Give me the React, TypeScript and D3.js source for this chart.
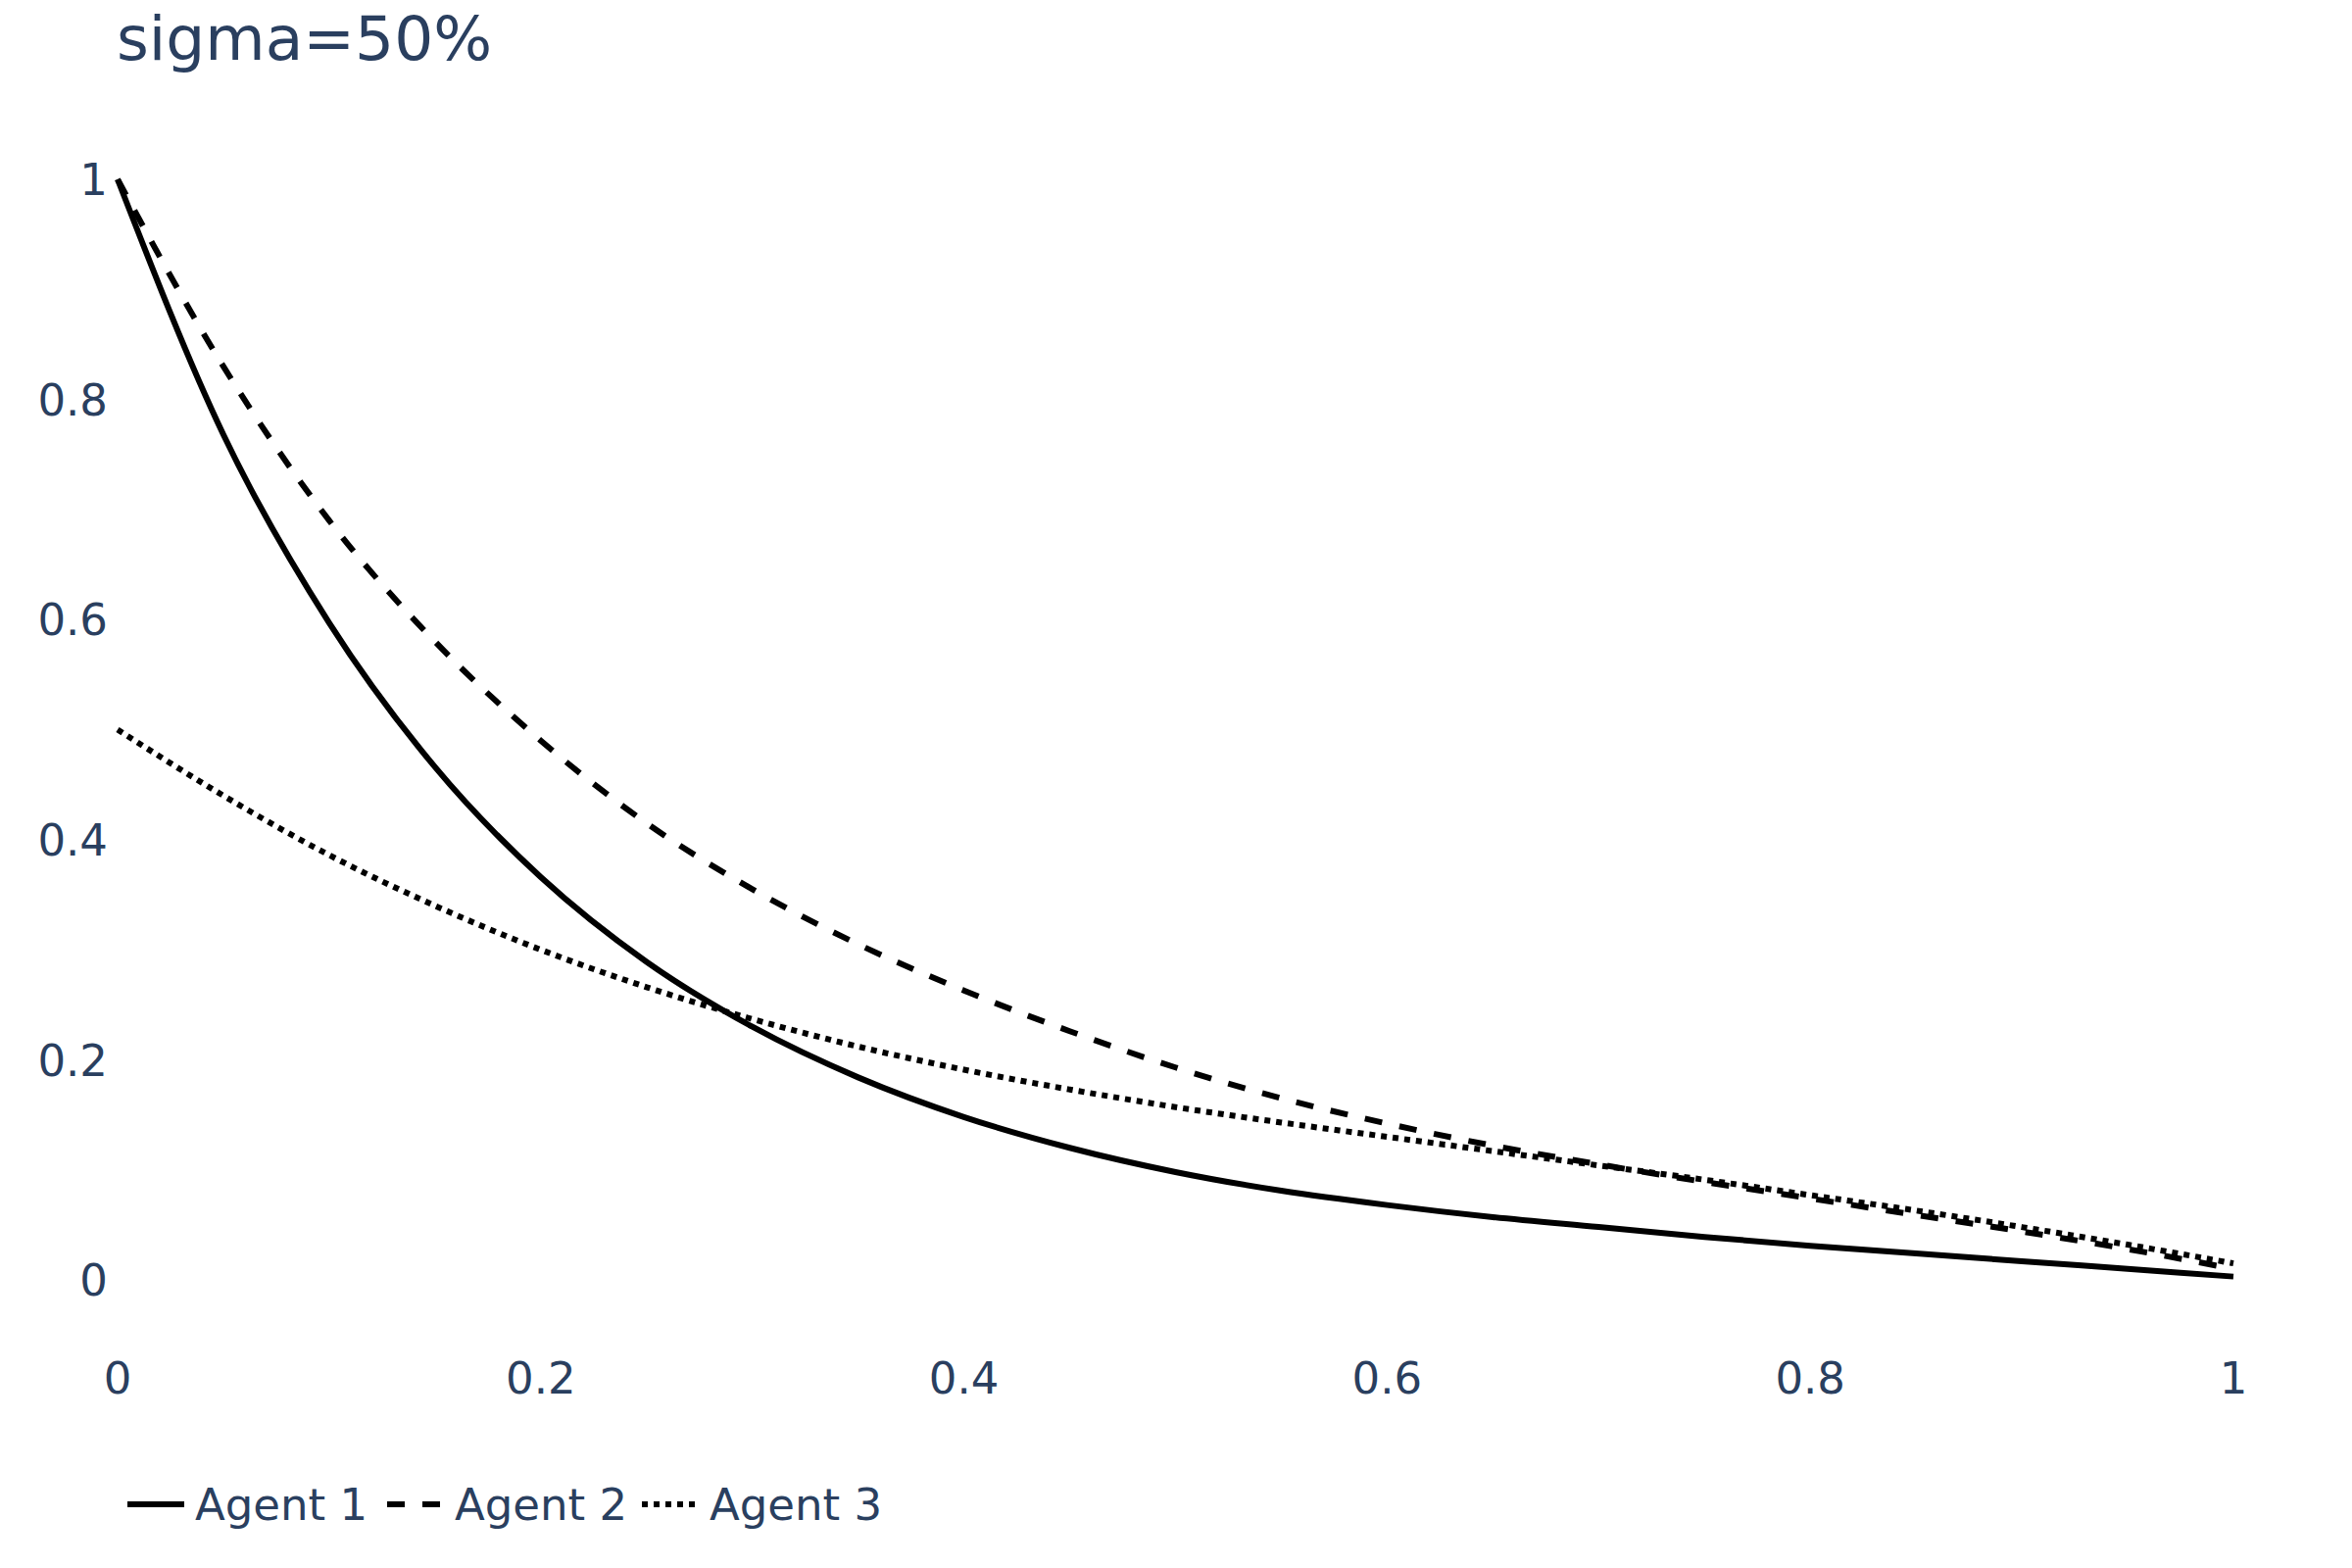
import React from "react";
import * as d3 from "d3";

const xValues = [0, 0.05, 0.1, 0.15, 0.2, 0.25, 0.3, 0.35, 0.4, 0.45, 0.5, 0.55, 0.6, 0.65, 0.7, 0.75, 0.8, 0.85, 0.9, 0.95, 1.0];
const agent1 = [1.0, 0.768, 0.597, 0.466, 0.366, 0.289, 0.23, 0.184, 0.148, 0.12, 0.098, 0.081, 0.068, 0.057, 0.048, 0.039, 0.031, 0.024, 0.017, 0.01, 0.003];
const agent2 = [1.0, 0.83, 0.69, 0.58, 0.49, 0.415, 0.355, 0.305, 0.263, 0.226, 0.193, 0.165, 0.142, 0.122, 0.105, 0.089, 0.074, 0.059, 0.044, 0.028, 0.01];
const agent3 = [0.5, 0.44, 0.386, 0.34, 0.3, 0.266, 0.237, 0.212, 0.191, 0.173, 0.157, 0.143, 0.13, 0.117, 0.104, 0.091, 0.077, 0.063, 0.048, 0.032, 0.015];
const seriesNames = ["Agent 1", "Agent 2", "Agent 3"];
const xTicks = [0, 0.2, 0.4, 0.6, 0.8, 1];
const yTicks = [0, 0.2, 0.4, 0.6, 0.8, 1];
const titleText = "sigma=50%";

const W = 2400;
const H = 1600;
const FONT = "'DejaVu Sans', Verdana, sans-serif";
const TEXT = "#2a3f5f";
const LW = 6;

export default function App() {
  const x = d3.scaleLinear().domain([0, 1]).range([120, 2279]);
  const y = d3.scaleLinear().domain([0, 1]).range([1306, 183]);
  const line = d3
    .line<[number, number]>()
    .x((d) => x(d[0]))
    .y((d) => y(d[1]))
    .curve(d3.curveMonotoneX);

  const all = [agent1, agent2, agent3];
  const dashes = ["none", `${LW * 3},${LW * 3}`, `${LW},${LW}`];
  const legendX = [130, 395, 655];
  const legendY = 1535;

  return (
    <>
      <style>{`body{margin:0}`}</style>
      <svg width={W} height={H} style={{ display: "block", background: "#fff" }} fontFamily={FONT}>
        <rect x={0} y={0} width={W} height={H} fill="#fff" />
        <text x={119} y={61} fontSize={63} fill={TEXT}>
          {titleText}
        </text>
        {yTicks.map((t) => (
          <text key={"y" + t} x={110} y={y(t)} dy="0.36em" fontSize={45} fill={TEXT} textAnchor="end">
            {String(t)}
          </text>
        ))}
        {xTicks.map((t) => (
          <text key={"x" + t} x={x(t)} y={1422} fontSize={45} fill={TEXT} textAnchor="middle">
            {String(t)}
          </text>
        ))}
        {all.map((s, i) => (
          <path
            key={"s" + i}
            d={line(xValues.map((xv, j) => [xv, s[j]] as [number, number])) || ""}
            fill="none"
            stroke="#000"
            strokeWidth={LW}
            strokeDasharray={dashes[i]}
            strokeLinejoin="round"
          />
        ))}
        {seriesNames.map((n, i) => (
          <g key={"l" + i}>
            <line
              x1={legendX[i]}
              x2={legendX[i] + 58}
              y1={legendY}
              y2={legendY}
              stroke="#000"
              strokeWidth={LW}
              strokeDasharray={dashes[i]}
            />
            <text x={legendX[i] + 69} y={legendY} dy="0.36em" fontSize={45} fill={TEXT}>
              {n}
            </text>
          </g>
        ))}
      </svg>
    </>
  );
}
